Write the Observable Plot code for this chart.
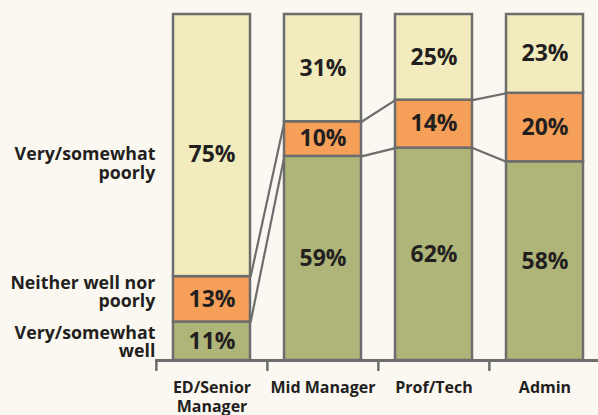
<!DOCTYPE html>
<html><head><meta charset="utf-8">
<script src="https://cdn.jsdelivr.net/npm/d3@7"></script>
<script src="https://cdn.jsdelivr.net/npm/@observablehq/plot@0.6"></script>
<style>
html,body{margin:0;padding:0;background:#fbf8f1;}
#chart svg{display:block;}
</style></head><body><div id="chart"></div>
<script>
// ---- data ----
const categories = ["ED/Senior Manager", "Mid Manager", "Prof/Tech", "Admin"];
const categoryLabels = ["ED/Senior\nManager", "Mid Manager", "Prof/Tech", "Admin"];
const responses = ["Very/somewhat well", "Neither well nor poorly", "Very/somewhat poorly"];
const responseLabels = ["Very/somewhat\nwell", "Neither well nor\npoorly", "Very/somewhat\npoorly"];
const wellValues = [11, 59, 62, 58];
const neitherValues = [13, 10, 14, 20];
const poorlyValues = [75, 31, 25, 23];

// ---- styles ----
const colors = ["#afb479", "#f69f59", "#f1ebbd"];
const edge = "#6d6d6d";
const ink = "#231f20";
const font = "Open Sans";
const inset = 17;
const xRange = [155, 600];
const step = (xRange[1] - xRange[0]) / categories.length;
const half = step / 2 - inset;

const series = [wellValues, neitherValues, poorlyValues];
const data = [];
responses.forEach((r, j) => categories.forEach((c, i) =>
  data.push({category: c, response: r, j, i, value: series[j][i]})));

const totals = categories.map((c, i) => series.reduce((s, a) => s + a[i], 0));
const cum = (j, k) => j < 0 ? 0 : series.slice(0, j + 1).reduce((s, a) => s + a[k], 0) / totals[k];
const mid = (j, k) => (cum(j - 1, k) + cum(j, k)) / 2;
const links = [];
for (let j = 0; j < 2; j++) for (let i = 0; i < categories.length - 1; i++)
  links.push({c1: categories[i], c2: categories[i + 1], y1: cum(j, i), y2: cum(j, i + 1)});

// custom curve: draw from right edge of one bar to left edge of the next
function edgeCurve(ctx) {
  let pts = [];
  return {
    areaStart() {}, areaEnd() {},
    lineStart() { pts = []; },
    point(x, y) { pts.push([x, y]); },
    lineEnd() {
      const [a, b] = pts;
      ctx.moveTo(a[0] + half, a[1]);
      ctx.lineTo(b[0] - half, b[1]);
    }
  };
}

const isEdPoor = d => d.i === 0 && d.j === 2;

function pctText(rows, dy) {
  return Plot.text(rows, {
    x: "category", y: d => mid(d.j, d.i),
    text: d => d.value + "%",
    fontSize: 23, fontWeight: 700, fill: ink, fontFamily: font, dy
  });
}
function sideText(j, dy) {
  return Plot.text([responses[j]], {
    x: () => categories[0], y: () => mid(j, 0),
    text: () => responseLabels[j],
    textAnchor: "end", dx: -(half + 18), dy, lineHeight: 1.03,
    fontSize: 17.8, fontWeight: 700, fill: ink, fontFamily: font
  });
}

const chart = Plot.plot({
  width: 598,
  height: 415,
  marginLeft: 155,
  marginRight: 0,
  marginTop: 14,
  marginBottom: 55,
  style: {background: "#fbf8f1", fontFamily: font},
  x: {domain: categories, range: xRange, padding: 0, axis: null},
  y: {domain: [0, 1], range: [360, 14], axis: null},
  color: {domain: responses, range: colors},
  marks: [
    Plot.link(links, {x1: "c1", x2: "c2", y1: "y1", y2: "y2", stroke: edge, strokeWidth: 2.2, curve: edgeCurve}),
    Plot.barY(data, Plot.stackY({
      x: "category", y: "value", z: "response", offset: "normalize",
      fill: "response", stroke: edge, strokeWidth: 2.5, insetLeft: inset, insetRight: inset
    })),
    pctText(data.filter(d => !isEdPoor(d)), 0),
    pctText(data.filter(isEdPoor), 9),
    sideText(0, 1),
    sideText(1, -7),
    sideText(2, 18),
    Plot.ruleY([0], {stroke: edge, strokeWidth: 3}),
    Plot.axisX({tickSize: 11, tickFormat: () => "", dx: -step / 2, stroke: edge, strokeWidth: 2.5}),
    Plot.axisX({tickSize: 0, tickPadding: 19, tickFormat: d => categoryLabels[categories.indexOf(d)],
      fontSize: 16, fontWeight: 700, fill: ink, fontFamily: font, lineHeight: 1.19})
  ]
});
document.getElementById("chart").appendChild(chart);
</script></body></html>
